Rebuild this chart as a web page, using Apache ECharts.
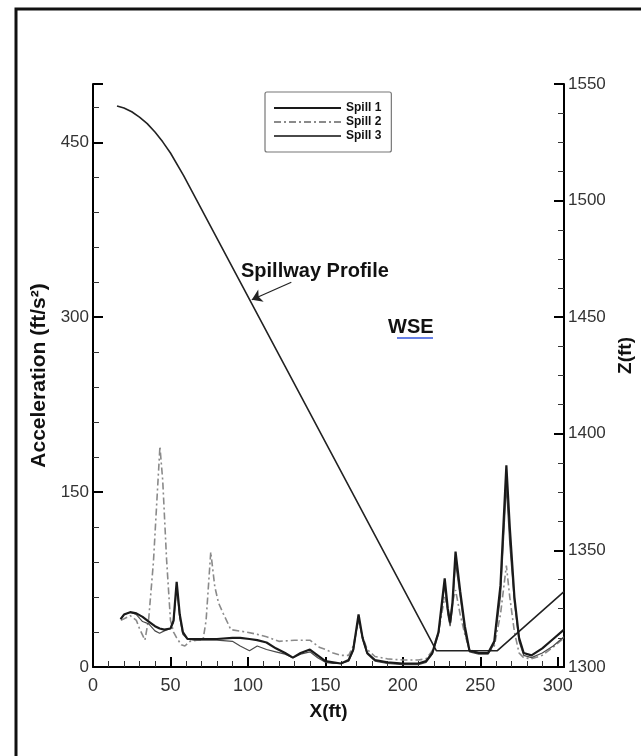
<!DOCTYPE html>
<html>
<head>
<meta charset="utf-8">
<script src="https://cdn.jsdelivr.net/npm/echarts@6/dist/echarts.min.js"></script>
<style>
  html, body { margin: 0; padding: 0; background: #fff; }
  #chart { width: 641px; height: 756px; }
</style>
</head>
<body>
<div id="chart"></div>
<script>
// acceleration curves, x in ft, acceleration in ft/s^2
const accX13 = [17.8, 20, 24, 28, 32, 36, 40, 43, 46, 50, 52, 54, 56, 58, 61, 65, 73, 80, 90, 95,
  101, 106, 112, 118, 124, 129, 134, 140, 145, 150, 155, 160, 165, 168, 171.4, 174, 177, 182, 190, 200,
  210, 215, 219, 223, 227, 229, 230.5, 232, 234, 237, 240, 243, 249, 255, 259, 263, 266.8, 269, 272, 275,
  278, 283, 290, 297, 304]
const spill1Acc = [41, 45, 47, 46, 43, 39, 35, 33, 32, 33, 40, 73, 45, 30, 24, 24, 24, 24, 25, 25,
  24, 23, 21, 16, 12, 8, 12, 15, 10, 5, 4, 3, 6, 15, 45, 25, 12, 6, 4, 3,
  3, 5, 12, 30, 76, 50, 38, 55, 99, 65, 35, 14, 12, 12, 22, 70, 173, 120, 60, 25,
  12, 10, 16, 24, 32]
const spill3Acc = [41, 45, 47, 45, 39, 37, 31, 29, 31, 33, 38, 68, 42, 28, 24, 23, 23, 23, 22, 18,
  14, 18, 15, 13, 11, 8, 11, 13, 8, 4, 3, 3, 5, 14, 42, 24, 11, 5, 3, 2,
  2, 4, 11, 28, 70, 45, 35, 50, 90, 60, 30, 13, 11, 11, 20, 60, 155, 105, 55, 22,
  10, 8, 12, 18, 26]

const spill2X = [18, 24, 28, 30, 33.5, 36, 39, 43.2, 45, 47.5, 50, 52, 54, 57, 59.3, 62.5, 67, 71, 73, 76,
  78.6, 81, 84, 89, 99, 106, 112, 120, 130, 140, 146, 150, 155, 160, 165, 168, 171.4, 174, 177, 182,
  190, 200, 210, 215, 219, 223, 227, 229, 230.5, 232, 234, 237, 240, 243, 249, 255, 259, 263, 266.8, 269,
  272, 275, 278, 283, 290, 297, 304]
const spill2Acc = [40, 44, 40, 33, 23, 42, 90, 189, 160, 92, 40, 30, 25, 19, 18, 22, 23, 23, 40, 98.6,
  69, 55, 46, 32, 30, 28, 26, 22, 23, 23, 17, 15, 12, 10, 10, 18, 40, 26, 15, 9,
  7, 6, 6, 7, 14, 30, 60, 50, 40, 55, 66, 45, 28, 15, 12, 12, 18, 45, 87, 60,
  30, 12, 8, 7, 10, 17, 25]

// spillway profile, elevation Z (ft) on right axis
const profileX = [15.5, 20, 25, 30, 35, 40, 45, 50, 58.5, 221.6, 261, 304]
const profileZ = [1540.6, 1539.7, 1538.1, 1535.8, 1533.0, 1529.4, 1525.2, 1520.4, 1510.7, 1307, 1307, 1332.3]

// arrow pointing at the profile (data coords)
const arrowFrom = [128, 1465]
const arrowTo = [102.5, 1457.5]

const pairs = (xs, ys) => xs.map((x, i) => [x, ys[i]])

const chart = echarts.init(document.getElementById('chart'))

const axisFont = { fontFamily: 'Liberation Sans, Arial, sans-serif', fontSize: 17, color: '#333' }
const nameFont = { fontFamily: 'Liberation Sans, Arial, sans-serif', fontSize: 19, fontWeight: 'bold', color: '#111' }

const option = {
  animation: false,
  backgroundColor: '#fff',
  grid: { left: 93, right: 77, top: 84, bottom: 89, outerBoundsMode: 'none' },
  legend: {
    left: 265,
    top: 92,
    orient: 'vertical',
    data: ['Spill 1', 'Spill 2', 'Spill 3'],
    itemWidth: 67,
    itemHeight: 14,
    itemGap: 2,
    padding: [10, 10, 10, 8],
    borderColor: '#777',
    borderWidth: 1.2,
    borderRadius: 2,
    itemStyle: { opacity: 0 },
    textStyle: { fontFamily: 'Liberation Sans, Arial, sans-serif', fontSize: 12, fontWeight: 'bold', color: '#111' }
  },
  xAxis: {
    type: 'value',
    min: 0,
    max: 304,
    interval: 50,
    name: 'X(ft)',
    nameLocation: 'middle',
    nameGap: 35,
    nameTextStyle: nameFont,
    axisLine: { show: true, lineStyle: { color: '#000', width: 2 } },
    axisTick: { show: true, inside: true, length: 10, lineStyle: { color: '#000', width: 2 } },
    minorTick: { show: true, splitNumber: 5, length: 6, lineStyle: { color: '#333', width: 1 } },
    axisLabel: { ...axisFont, fontSize: 18, margin: 10, showMaxLabel: false },
    splitLine: { show: false }
  },
  yAxis: [
    {
      type: 'value',
      min: 0,
      max: 500,
      interval: 150,
      name: 'Acceleration (ft/s²)',
      nameLocation: 'middle',
      nameGap: 38,
      nameRotate: 90,
      nameTextStyle: { ...nameFont, fontSize: 21 },
      axisLine: { show: true, lineStyle: { color: '#000', width: 2 } },
      axisTick: { show: true, inside: true, length: 10, lineStyle: { color: '#000', width: 2 } },
      minorTick: { show: true, splitNumber: 5, length: 6, lineStyle: { color: '#333', width: 1 } },
      axisLabel: { ...axisFont, margin: 4, showMaxLabel: false },
      splitLine: { show: false }
    },
    {
      type: 'value',
      position: 'right',
      min: 1300,
      max: 1550,
      interval: 50,
      name: 'Z(ft)',
      nameLocation: 'middle',
      nameGap: 45,
      nameRotate: 90,
      nameTextStyle: { ...nameFont, padding: [0, 0, 0, 40] },
      axisLine: { show: true, lineStyle: { color: '#000', width: 2 } },
      axisTick: { show: true, inside: true, length: 10, lineStyle: { color: '#000', width: 2 } },
      minorTick: { show: true, splitNumber: 4, length: 6, lineStyle: { color: '#333', width: 1 } },
      axisLabel: { ...axisFont, margin: 4, formatter: (v) => String(v) },
      splitLine: { show: false }
    }
  ],
  series: [
    {
      name: 'Spill 1',
      type: 'line',
      yAxisIndex: 0,
      symbol: 'none',
      data: pairs(accX13, spill1Acc),
      lineStyle: { color: '#1a1a1a', width: 2.2 },
      itemStyle: { color: '#1a1a1a' },
      z: 4
    },
    {
      name: 'Spill 2',
      type: 'line',
      yAxisIndex: 0,
      symbol: 'none',
      data: pairs(spill2X, spill2Acc),
      lineStyle: { color: '#8a8a8a', width: 1.6, type: [7, 3, 2, 3] },
      itemStyle: { color: '#8a8a8a' },
      z: 3
    },
    {
      name: 'Spill 3',
      type: 'line',
      yAxisIndex: 0,
      symbol: 'none',
      data: pairs(accX13, spill3Acc),
      lineStyle: { color: '#4a4a4a', width: 1.2 },
      itemStyle: { color: '#4a4a4a' },
      z: 3
    },
    {
      name: 'Spillway Profile',
      type: 'line',
      yAxisIndex: 1,
      symbol: 'none',
      data: pairs(profileX, profileZ),
      lineStyle: { color: '#222', width: 1.6 },
      itemStyle: { color: '#222' },
      markLine: {
        silent: true,
        symbol: ['none', 'arrow'],
        symbolSize: 10,
        label: { show: false },
        lineStyle: { color: '#222', width: 1.2, type: 'solid' },
        data: [[{ coord: arrowFrom }, { coord: arrowTo }]]
      }
    }
  ],
  graphic: [
    {
      type: 'rect',
      shape: { x: 16, y: 9, width: 640, height: 760 },
      style: { fill: 'none', stroke: '#111', lineWidth: 3 },
      z: 100
    },
    {
      type: 'text',
      left: 241,
      top: 261,
      style: { text: 'Spillway Profile', font: 'bold 20px "Liberation Sans", Arial, sans-serif', fill: '#111' }
    },
    {
      type: 'text',
      left: 388,
      top: 317,
      style: { text: 'WSE', font: 'bold 20px "Liberation Sans", Arial, sans-serif', fill: '#111' }
    },
    {
      type: 'line',
      shape: { x1: 397, y1: 338, x2: 433, y2: 338 },
      style: { stroke: '#3355dd', lineWidth: 1.5 }
    }
  ]
}

chart.setOption(option)
</script>
</body>
</html>
